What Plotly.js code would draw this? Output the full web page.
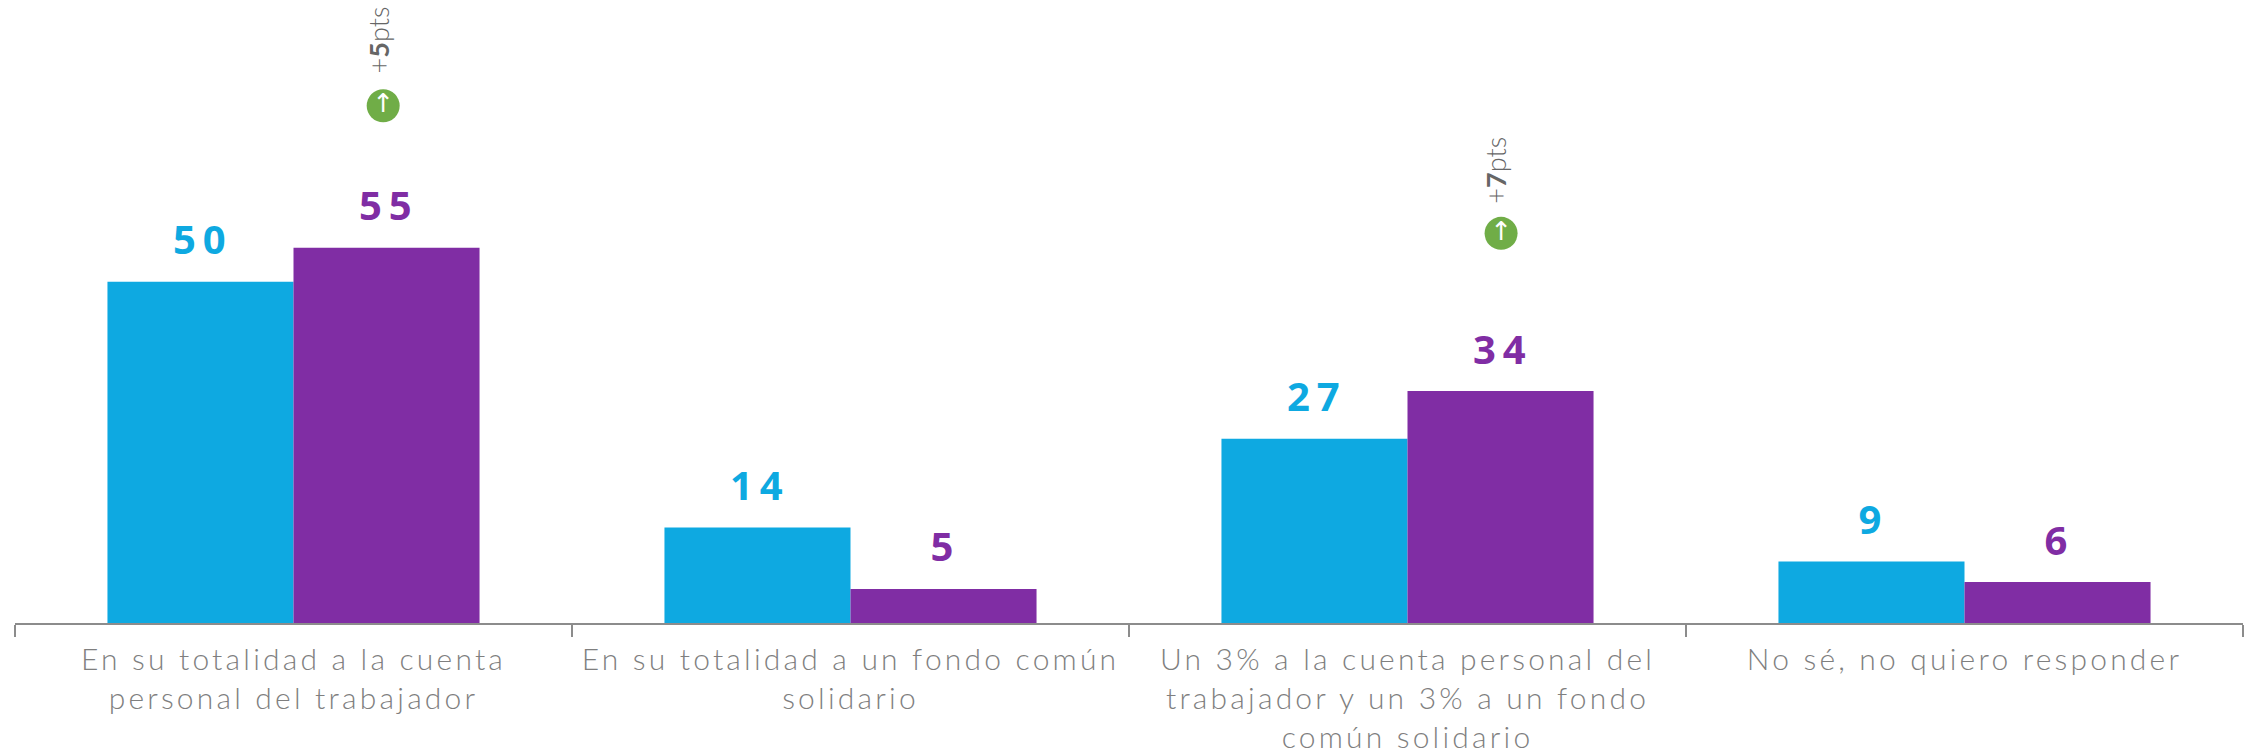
<!DOCTYPE html>
<html>
<head>
<meta charset="utf-8">
<script src="https://cdn.plot.ly/plotly-3.0.1.min.js"></script>
<style>
html,body{margin:0;padding:0;background:#fff}
.xtick text{letter-spacing:3.2px}
.annotation:not([data-index="8"]):not([data-index="9"]) text{letter-spacing:7px}
</style>
</head>
<body>
<div id="chart" style="width:2252px;height:754px"></div>
<script>
const categories = [
  "En su totalidad a la cuenta<br>personal del trabajador",
  "En su totalidad a un fondo común<br>solidario",
  "Un 3% a la cuenta personal del<br>trabajador y un 3% a un fondo<br>común solidario",
  "No sé, no quiero responder"
];
const seriesA = [50, 14, 27, 9];
const seriesB = [55, 5, 34, 6];
const colorA = "#0EA9E1";
const colorB = "#802DA4";
const changeX = [0.161, 2.168];
const changeIconY = [75.8, 57.1];
const changeTextY = [85.4, 66.3];
const changeLabels = ["+<b>5</b>pts", "+<b>7</b>pts"];

const labelFont = "Open Sans, sans-serif";
const annotations = [];
[[seriesA, colorA, -91], [seriesB, colorB, 95]].forEach(([vals, col, shift]) => {
  vals.forEach((v, i) => annotations.push({
    x: i, y: v, xref: "x", yref: "y", xshift: shift, yshift: 43,
    text: String(v), showarrow: false,
    font: {family: labelFont, size: 40, color: col, weight: 700}
  }));
});
changeLabels.forEach((t, i) => annotations.push({
  x: changeX[i], y: changeTextY[i], xref: "x2", yref: "y", xshift: -5,
  text: t, showarrow: false, textangle: -90,
  font: {family: "Lato, sans-serif", size: 27, color: "#666666", weight: 300}
}));

const traces = [
  {type: "bar", x: categories, y: seriesA, marker: {color: colorA}, hoverinfo: "skip"},
  {type: "bar", x: categories, y: seriesB, marker: {color: colorB}, hoverinfo: "skip"},
  {type: "scatter", xaxis: "x2", yaxis: "y", mode: "markers+text", x: changeX, y: changeIconY,
   marker: {size: 33, color: "#70AD47"}, text: ["↑", "↑"], textposition: "middle center",
   textfont: {family: "DejaVu Sans, sans-serif", size: 26, color: "#fff", weight: 400},
   hoverinfo: "skip", cliponaxis: false}
];

const layout = {
  width: 2252, height: 754, showlegend: false, barmode: "group", bargap: 0.332, bargroupgap: 0,
  paper_bgcolor: "#fff", plot_bgcolor: "#fff",
  margin: {l: 15, r: 9, t: 0, b: 131, pad: 0},
  xaxis: {
    type: "category", range: [-0.5, 3.5], tickson: "boundaries", ticks: "outside", ticklen: 12,
    tickwidth: 1.5, tickcolor: "#8C8C8C", showline: true, linecolor: "#8C8C8C", linewidth: 1.5,
    showgrid: false, zeroline: false, tickangle: 0, ticklabelstandoff: 9,
    tickfont: {family: "Lato, sans-serif", size: 30, color: "#7F7F7F", weight: 300}
  },
  xaxis2: {overlaying: "x", range: [-0.5, 3.5], visible: false, fixedrange: true},
  yaxis: {range: [0, 91.3], visible: false, showgrid: false, zeroline: false},
  annotations: annotations
};
Plotly.newPlot("chart", traces, layout, {displayModeBar: false, staticPlot: true});
</script>
</body>
</html>
